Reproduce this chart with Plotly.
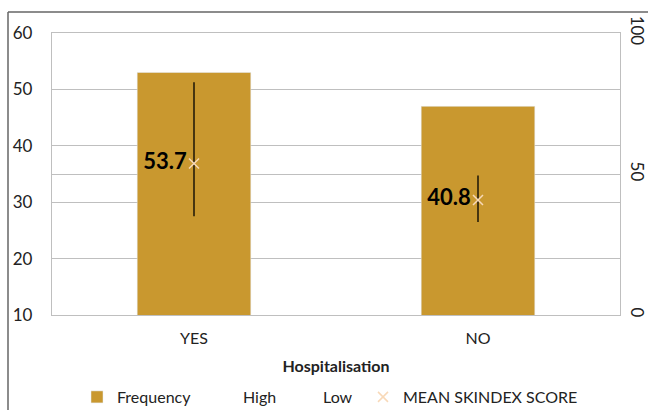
import plotly.graph_objects as go

categories = ["YES", "NO"]
frequency = [53, 47]
high = [82.5, 49.5]
low = [35, 33]
mean_score = [53.7, 40.8]
mean_labels = ["53.7", "40.8"]

BAR = "#C9982F"
FONT = "Lato, 'Liberation Sans', sans-serif"

fig = go.Figure()
fig.add_trace(go.Bar(x=categories, y=frequency, name="Frequency", marker_color=BAR,
                     width=0.4, yaxis="y", legend="legend"))
# high-low lines
hx, hy = [], []
for c, h, l in zip(categories, high, low):
    hx += [c, c, None]
    hy += [h, l, None]
fig.add_trace(go.Scatter(x=hx, y=hy, mode="lines", line=dict(color="black", width=1.3),
                         yaxis="y2", showlegend=False, hoverinfo="skip"))
fig.add_trace(go.Scatter(x=categories, y=high, name="High", mode="markers",
                         marker=dict(color="rgba(0,0,0,0)", size=1), yaxis="y2", legend="legend2"))
fig.add_trace(go.Scatter(x=categories, y=low, name="Low", mode="markers",
                         marker=dict(color="rgba(0,0,0,0)", size=1), yaxis="y2", legend="legend3"))
fig.add_trace(go.Scatter(x=categories, y=mean_score, name="MEAN SKINDEX SCORE",
                         mode="markers+text", text=mean_labels, textposition="middle left",
                         textfont=dict(size=22, color="black", family=FONT, weight="bold"),
                         marker=dict(symbol="x-thin", size=10, line=dict(color="#F8D9B8", width=1.5)),
                         yaxis="y2", legend="legend4"))

L, R, T, B = 52, 28, 33, 95
W, H = 648, 410
pw, ph = W - L - R, H - T - B


def px_x(px):
    return (px - L) / pw


def px_y(py):
    return (H - B - py) / ph


def leg(px_start):
    return dict(orientation="h", x=px_x(px_start), xanchor="left", y=px_y(380), yanchor="top",
                font=dict(size=16), bgcolor="rgba(0,0,0,0)", borderwidth=0)


fig.update_layout(
    width=W, height=H,
    margin=dict(l=L, r=R, t=T, b=B, autoexpand=False),
    paper_bgcolor="white", plot_bgcolor="white",
    font=dict(family=FONT, size=16, color="#222"),
    xaxis=dict(title=dict(text="<b>Hospitalisation</b>", font=dict(size=16), standoff=14),
               showline=True, linecolor="#BFBFBF", mirror=True, linewidth=1.3, automargin=False,
               tickfont=dict(size=16), ticks="outside", ticklen=9, tickcolor="rgba(0,0,0,0)"),
    yaxis=dict(range=[10, 60], dtick=10, gridcolor="#BFBFBF", gridwidth=1.3, automargin=False,
               showline=True, linecolor="#BFBFBF", linewidth=1.3, tickfont=dict(size=17),
               ticks="outside", ticklen=15, tickcolor="rgba(0,0,0,0)", zeroline=False),
    yaxis2=dict(range=[0, 100], tickvals=[0, 50, 100], overlaying="y", side="right",
                gridcolor="#BFBFBF", gridwidth=1.3, showline=True, linecolor="#BFBFBF",
                linewidth=1.3, tickangle=90, ticks="outside", ticklen=3, automargin=False,
                tickfont=dict(size=17), tickcolor="rgba(0,0,0,0)", zeroline=False),
    legend=leg(77),
    legend2=leg(203),
    legend3=leg(283),
    legend4=leg(363),
    shapes=[
        dict(type="line", xref="paper", yref="paper", x0=px_x(8), x1=px_x(650), y0=px_y(12), y1=px_y(12),
             line=dict(color="#666", width=1.5)),
        dict(type="line", xref="paper", yref="paper", x0=px_x(8), x1=px_x(8), y0=px_y(12), y1=px_y(412),
             line=dict(color="#666", width=1.5)),
    ],
)
fig.write_html("out.html", config={"displayModeBar": False},
               post_script="document.body.style.margin='0';document.body.style.overflow='hidden';")
